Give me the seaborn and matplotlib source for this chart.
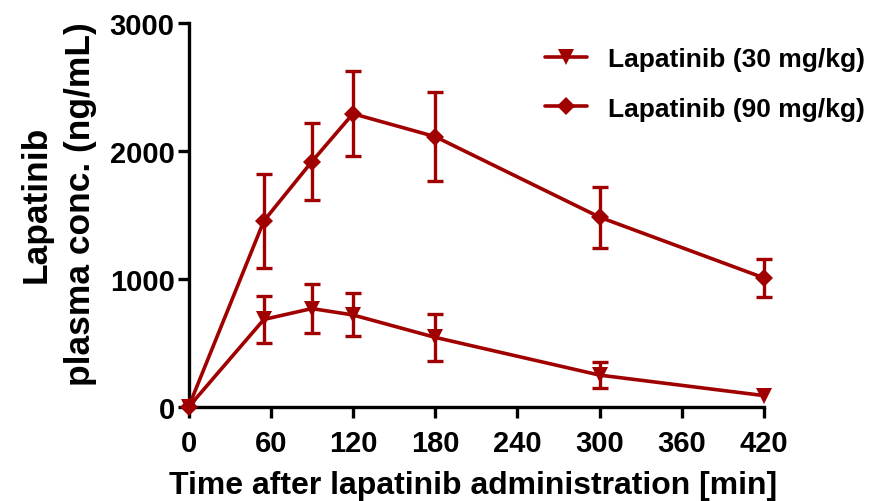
import matplotlib
matplotlib.use("Agg")
import matplotlib.pyplot as plt
from matplotlib.lines import Line2D
import seaborn as sns
import pandas as pd

# Sampling times (min) and plasma concentrations (ng/mL), mean ± SD
time_min = [0, 55, 90, 120, 180, 300, 420]
conc_30 = [0, 685, 770, 720, 545, 250, 90]
sd_30 = [0, 187, 189, 168, 181, 100, 0]
conc_90 = [0, 1455, 1918, 2292, 2113, 1484, 1009]
sd_90 = [0, 365, 303, 330, 350, 238, 150]
labels = ["Lapatinib (30 mg/kg)", "Lapatinib (90 mg/kg)"]
x_ticks = [0, 60, 120, 180, 240, 300, 360, 420]
y_ticks = [0, 1000, 2000, 3000]

color = "#A00000"

sns.set_theme(style="ticks")
plt.rcParams["font.family"] = ["Liberation Sans", "DejaVu Sans"]
plt.rcParams["font.weight"] = "bold"
plt.rcParams["text.color"] = "black"
plt.rcParams["axes.labelcolor"] = "black"

df = pd.DataFrame({
    "time": time_min * 2,
    "conc": conc_30 + conc_90,
    "sd": sd_30 + sd_90,
    "group": [labels[0]] * len(time_min) + [labels[1]] * len(time_min),
})

fig = plt.figure(figsize=(8.72, 5.02), dpi=100)
ax = fig.add_axes([0.2162, 0.187, 0.66, 0.765])

markers = {labels[0]: "v", labels[1]: "D"}

# error bars only where an SD is reported
err = df[df["sd"] > 0]
ax.errorbar(err["time"], err["conc"], yerr=err["sd"], fmt="none",
            ecolor=color, elinewidth=2.4, capsize=5.8, capthick=2.4,
            zorder=2, clip_on=False)

sns.lineplot(data=df, x="time", y="conc", hue="group", style="group",
             palette={labels[0]: color, labels[1]: color},
             markers=markers, dashes=False, linewidth=2.6,
             markersize=11, markeredgewidth=0, ax=ax, legend=False,
             zorder=3, clip_on=False)
for line in ax.get_lines():
    if line.get_marker() == "D":
        line.set_markersize(9.5)

ax.set_xlim(0, 420)
ax.set_ylim(0, 3000)
ax.set_xticks(x_ticks)
ax.set_yticks(y_ticks)
sns.despine(ax=ax)
for s in ("left", "bottom"):
    ax.spines[s].set_linewidth(2.4)
    ax.spines[s].set_color("black")
ax.tick_params(axis="both", width=2.4, length=8, direction="out",
               labelsize=21, color="black", labelcolor="black")
ax.tick_params(axis="x", pad=8)
ax.tick_params(axis="y", pad=2)
for t in ax.get_xticklabels() + ax.get_yticklabels():
    t.set_fontweight("bold")

ax.set_xlabel("Time after lapatinib administration [min]", fontsize=23,
              fontweight="bold")
ax.xaxis.set_label_coords(0.494, -0.165)
ax.set_ylabel("Lapatinib\nplasma conc. (ng/mL)", fontsize=25.5,
              fontweight="bold", linespacing=1.42)
ax.yaxis.set_label_coords(-0.159, 0.531)

handles = [
    Line2D([], [], color=color, lw=2.6, marker="v", markersize=11, markeredgewidth=0),
    Line2D([], [], color=color, lw=2.6, marker="D", markersize=9.5, markeredgewidth=0),
]
leg = fig.legend(handles, labels, loc="upper left",
                 bbox_to_anchor=(545 / 872, 1 - 48 / 502),
                 frameon=False, prop={"weight": "bold", "size": 19},
                 handlelength=1.6, handletextpad=0.8, labelspacing=0.97,
                 borderpad=0, borderaxespad=0)

fig.savefig("out.png", dpi=100)
